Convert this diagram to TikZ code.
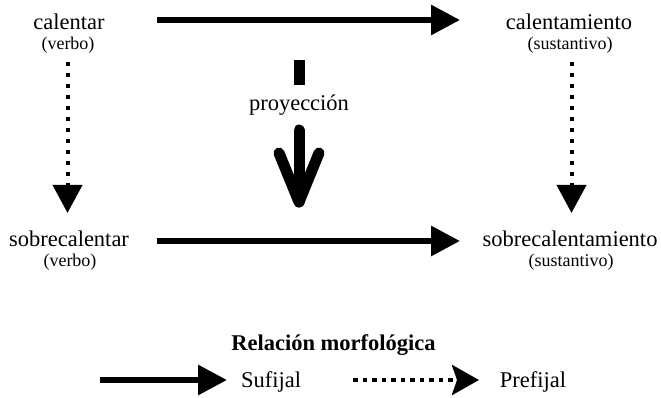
\documentclass[tikz,border=0pt]{standalone}
\usepackage{fontspec}
\setmainfont{Liberation Serif}
\usetikzlibrary{arrows.meta}
\begin{document}
\begin{tikzpicture}[x=1pt,y=-1pt,
  word/.style={inner sep=0pt,anchor=base,font=\fontsize{22.5}{24}\selectfont},
  cat/.style={inner sep=0pt,anchor=base,font=\fontsize{18}{20}\selectfont},
  suf/.style={line width=6pt,-{Triangle[length=29pt,width=29pt]}},
  pre/.style={line width=4pt,dash pattern=on 4pt off 7pt,-{Triangle[length=28pt,width=29pt]}},
  prelegend/.style={line width=4.5pt,dash pattern=on 4.5pt off 5pt,-{Stealth[length=27pt,width=30pt,inset=5pt]}},
  proj/.style={line width=11pt,line cap=round,line join=round}]
\useasboundingbox (0,0) rectangle (661,398);
% words
\node[word] (cal) at (69,30) {calentar};
\node[cat] (calc) at (68,50) {(verbo)};
\node[word] (calm) at (569,30) {calentamiento};
\node[cat] (calmc) at (570,50) {(sustantivo)};
\node[word] (sob) at (69,247) {sobrecalentar};
\node[cat] (sobc) at (70,266) {(verbo)};
\node[word] (sobm) at (570,247) {sobrecalentamiento};
\node[cat] (sobmc) at (571,266) {(sustantivo)};
% horizontal arrows
\coordinate (t1) at (157,20);
\coordinate (t2) at (460,20);
\draw[suf] (t1) -- (t2);
\coordinate (b1) at (157,241);
\coordinate (b2) at (460,241);
\draw[suf] (b1) -- (b2);
% vertical dotted arrows
\coordinate (l1) at (67.5,62);
\coordinate (l2) at (67.5,213);
\draw[pre] (l1) -- (l2);
\coordinate (r1) at (571.5,62);
\coordinate (r2) at (571.5,213);
\draw[pre] (r1) -- (r2);
% projection
\node[word,anchor=center] (proy) at (299,105) {proyecci\'on};
\coordinate (p0) at (299,60);
\coordinate (p1) at (299,85);
\draw[line width=11pt] (p0) -- (p1);
\coordinate (p2) at (299,130);
\coordinate (ptip) at (299,202);
\coordinate (pl) at (279,153);
\coordinate (pr) at (319,153);
\draw[proj] (p2) -- (ptip);
\draw[proj] (pl) -- (ptip) -- (pr);
% legend
\node[inner sep=0pt,anchor=base,font=\fontsize{22.5}{24}\selectfont\bfseries] (leg) at (333.5,350) {Relaci\'on morfol\'ogica};
\coordinate (s1) at (100,380);
\coordinate (s2) at (227,380);
\draw[suf] (s1) -- (s2);
\node[word] (sufl) at (271,387) {Sufijal};
\coordinate (d1) at (353,380);
\coordinate (d2) at (479,380);
\draw[prelegend] (d1) -- (d2);
\node[word] (prel) at (533,387) {Prefijal};
\end{tikzpicture}
\end{document}
